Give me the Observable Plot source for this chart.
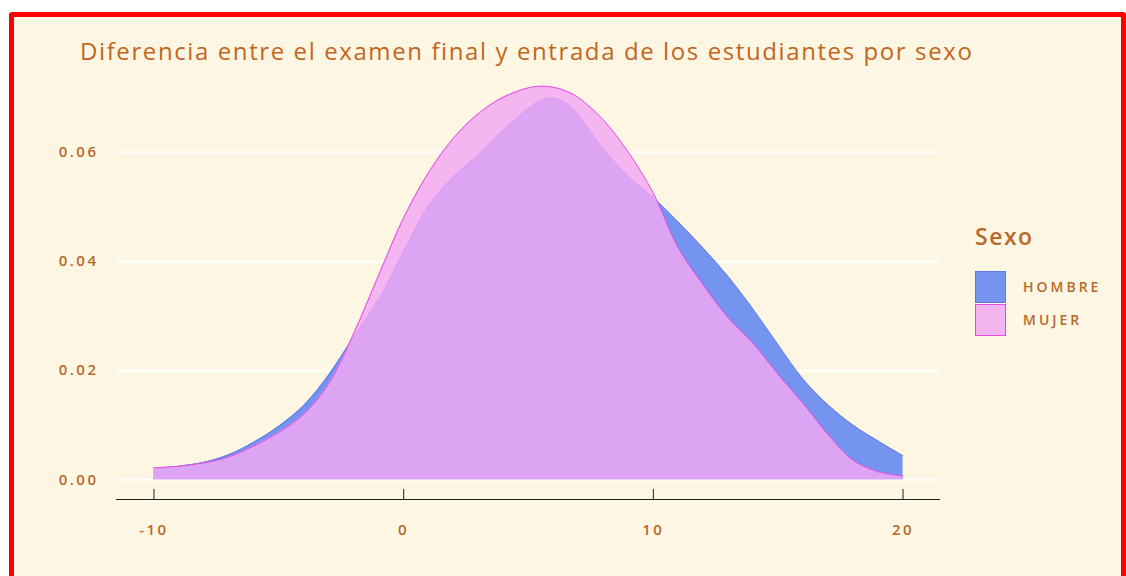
<!DOCTYPE html>
<html>
<head>
<meta charset="utf-8">
<script src="https://cdn.jsdelivr.net/npm/d3@7"></script>
<script src="https://cdn.jsdelivr.net/npm/@observablehq/plot@0.6"></script>
<style>
  html, body { margin: 0; padding: 0; background: #ffffff; width: 1126px; height: 576px; overflow: hidden; }
  #frame { position: absolute; left: 9px; top: 12px; width: 1107px; height: 620px; border: 5px solid #ff0000; border-radius: 3px; background: #fdf6e3; font-family: "Open Sans", sans-serif; }
  #title { position: absolute; left: 66px; top: 20px; font-size: 24px; line-height: 28px; color: #c2661c; letter-spacing: 1.6px; white-space: nowrap; }
  #chart { position: absolute; left: 0; top: 39px; }
  #legend { position: absolute; left: 961px; top: 206px; color: #b9692a; }
  #legend .lt { position: absolute; left: 0; top: -2px; font-size: 23px; line-height: 30px; font-weight: 600; letter-spacing: 1.5px; }
  #legend .sw { position: absolute; left: 0; width: 31px; height: 32px; box-sizing: border-box; border: 1px solid; }
  #legend .lab { position: absolute; left: 48px; font-size: 14px; line-height: 18px; letter-spacing: 3px; white-space: nowrap; font-weight: 600; }
</style>
</head>
<body>
<div id="frame">
  <div id="title"></div>
  <div id="chart"></div>
  <div id="legend"></div>
</div>
<script>
// ---- data ----
const xValues = [-10, -9, -8, -7, -6, -5, -4, -3, -2, -1, 0, 1, 2, 3, 4, 5, 5.5, 6, 6.5, 7, 8, 9, 10, 11, 12, 13, 14, 15, 16, 17, 18, 19, 20];
const hombreDensity = [0.0021, 0.0025, 0.0032, 0.0046, 0.0069, 0.0098, 0.0136, 0.0192, 0.0262, 0.0330, 0.0418, 0.0502, 0.0555, 0.0596, 0.0641, 0.0680, 0.0695, 0.0699, 0.0690, 0.0668, 0.0606, 0.0556, 0.0517, 0.0472, 0.0424, 0.0372, 0.0312, 0.0247, 0.0184, 0.0137, 0.0100, 0.0071, 0.0044];
const mujerDensity  = [0.0022, 0.0025, 0.0031, 0.0042, 0.0062, 0.0087, 0.0120, 0.0176, 0.0268, 0.0375, 0.0480, 0.0563, 0.0626, 0.0671, 0.0701, 0.0718, 0.0721, 0.0719, 0.0712, 0.0700, 0.0659, 0.0600, 0.0525, 0.0425, 0.0357, 0.0297, 0.0250, 0.0193, 0.0140, 0.0083, 0.0036, 0.0015, 0.0007];
const seriesNames = ["HOMBRE", "MUJER"];
const xTicks = [-10, 0, 10, 20];
const yTicks = [0, 0.02, 0.04, 0.06];
const titleText = "Diferencia entre el examen final y entrada de los estudiantes por sexo";
const legendTitle = "Sexo";

// ---- styles ----
const fillColors = {HOMBRE: "#7494f0", MUJER: "#f3a7f3"};
const fillOpacity = {HOMBRE: 1, MUJER: 0.83};
const strokeColors = {HOMBRE: "#5b78e6", MUJER: "#e14ae1"};
const textColor = "#b9692a";
const xDomain = [-11.5, 21.5];
const yDomain = [-0.0036, 0.0757];

const hombre = xValues.map((x, i) => ({x, density: hombreDensity[i], sexo: "HOMBRE"}));
const mujer = xValues.map((x, i) => ({x, density: mujerDensity[i], sexo: "MUJER"}));
const curve = "catmull-rom";

document.getElementById("title").textContent = titleText;

const chart = Plot.plot({
  width: 946,
  height: 520,
  marginLeft: 102,
  marginRight: 20,
  marginTop: 10,
  marginBottom: 77,
  x: {domain: xDomain},
  y: {domain: yDomain},
  style: {background: "transparent", fontFamily: "Open Sans, sans-serif", fontSize: "15px", letterSpacing: "2.5px", overflow: "visible"},
  marks: [
    Plot.gridY(yTicks, {stroke: "#ffffff", strokeOpacity: 1, strokeWidth: 2}),
    Plot.areaY(hombre, {x: "x", y: "density", fill: fillColors.HOMBRE, fillOpacity: fillOpacity.HOMBRE, curve}),
    Plot.lineY(hombre, {x: "x", y: "density", stroke: strokeColors.HOMBRE, strokeWidth: 1, curve}),
    Plot.areaY(mujer, {x: "x", y: "density", fill: fillColors.MUJER, fillOpacity: fillOpacity.MUJER, curve}),
    Plot.lineY(mujer, {x: "x", y: "density", stroke: strokeColors.MUJER, strokeWidth: 1, curve}),
    Plot.ruleY([yDomain[0]], {stroke: "#222222", strokeWidth: 1.2}),
    Plot.axisX(xTicks, {tickSize: -10, tickPadding: 35, stroke: "#222222", fill: textColor, fontSize: 15, fontWeight: 600, label: null, tickFormat: d => String(d)}),
    Plot.axisY(yTicks, {tickSize: 0, tickPadding: 18, fill: textColor, fontSize: 15, fontWeight: 600, label: null, tickFormat: d3.format(".2f")})
  ]
});
document.getElementById("chart").appendChild(chart);

// legend
const legend = document.getElementById("legend");
const lt = document.createElement("div");
lt.className = "lt";
lt.textContent = legendTitle;
legend.appendChild(lt);
seriesNames.forEach((name, i) => {
  const sw = document.createElement("div");
  sw.className = "sw";
  sw.style.top = (48 + i * 33) + "px";
  sw.style.borderColor = strokeColors[name];
  const bg = d3.color(fillColors[name]);
  bg.opacity = fillOpacity[name];
  sw.style.background = bg.formatRgb();
  legend.appendChild(sw);
  const lab = document.createElement("div");
  lab.className = "lab";
  lab.style.top = (55 + i * 33) + "px";
  lab.textContent = name;
  legend.appendChild(lab);
});
</script>
</body>
</html>
